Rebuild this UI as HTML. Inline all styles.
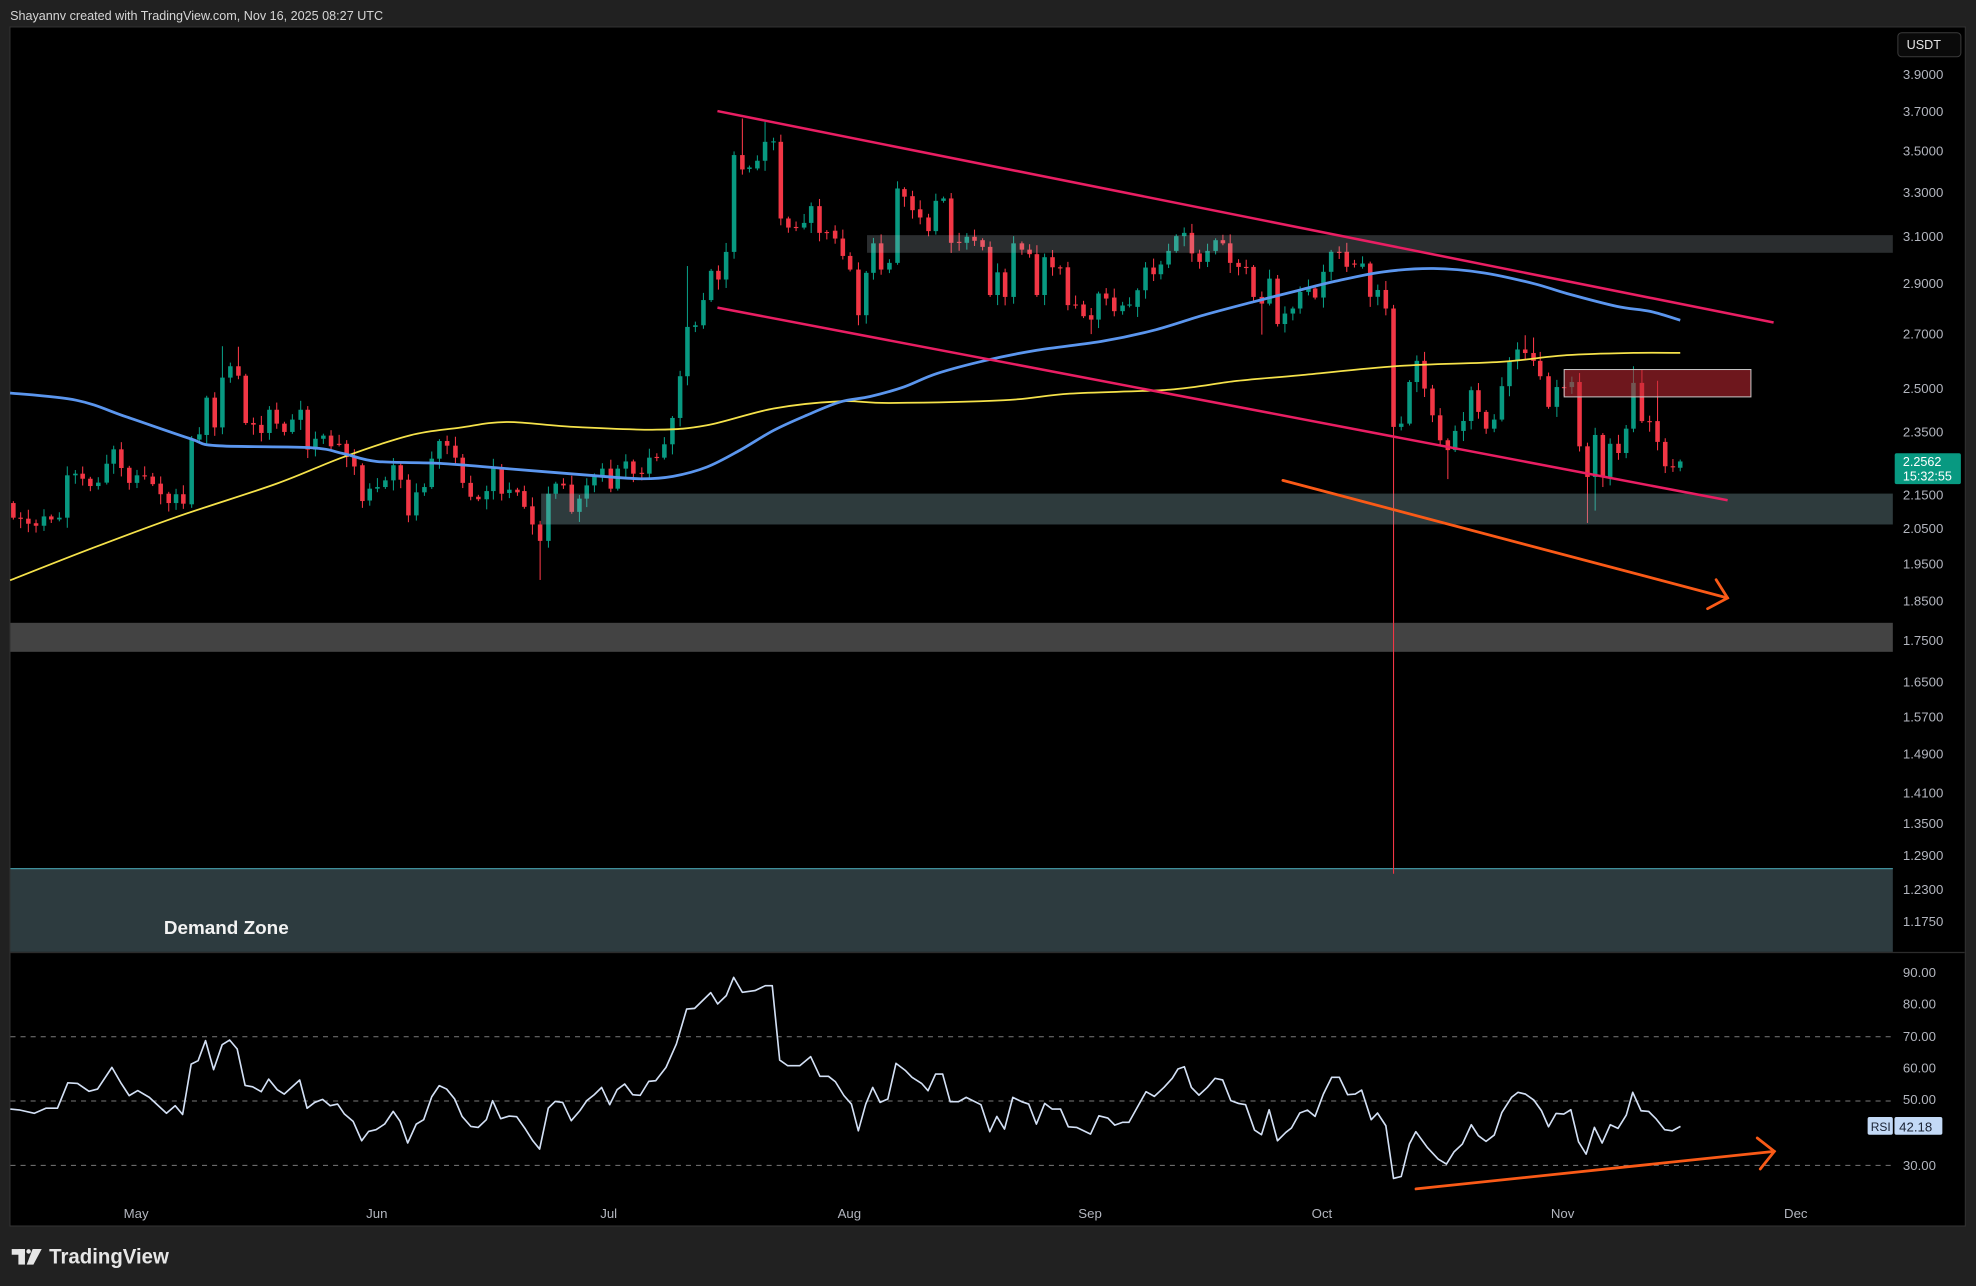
<!DOCTYPE html>
<html><head><meta charset="utf-8"><style>
html,body{margin:0;padding:0;background:#212121;}
svg{display:block;}
text{font-family:"Liberation Sans",sans-serif;}
</style></head><body>
<svg id="s" xmlns="http://www.w3.org/2000/svg" width="1976" height="1286" viewBox="0 0 1568 1020" preserveAspectRatio="none">
<rect x="0" y="0" width="1568" height="1020" fill="#212121"/>
<text x="8" y="16" font-size="10.5" fill="#d6d6d6" textLength="296" lengthAdjust="spacingAndGlyphs">Shayannv created with TradingView.com, Nov 16, 2025 08:27 UTC</text>
<rect x="7.9" y="21.4" width="1551.6" height="951" fill="#000" stroke="#333" stroke-width="0.8"/>
<!-- demand zone -->
<rect x="8.3" y="688.5" width="1493.7" height="66.5" fill="#2d3b3f"/>
<line x1="8.3" y1="689" x2="1502" y2="689" stroke="#3f8f9b" stroke-width="1"/>
<text x="130" y="741" font-size="15" font-weight="bold" fill="#f2f2f2">Demand Zone</text>
<!-- gray band -->
<rect x="8.3" y="494" width="1493.7" height="23" fill="#434343"/>
<line x1="8" y1="755.5" x2="1559" y2="755.5" stroke="#2c2c2c" stroke-width="1"/>
<g id="candles"></g>
<path id="ma200" fill="none" stroke="#f5e24a" stroke-width="1.4" d=""/>
<path id="ma100" fill="none" stroke="#5b96ee" stroke-width="2.2" d=""/>
<!-- overlay zones -->
<rect x="688" y="186.5" width="814" height="14" fill="rgba(190,205,212,0.22)"/>
<rect x="429.4" y="391.5" width="1072.6" height="24.5" fill="rgba(140,180,186,0.33)"/>
<rect x="1241.2" y="293.1" width="148.2" height="21.7" fill="rgba(190,40,50,0.58)" stroke="#c9c9c9" stroke-width="0.8"/>
<!-- pink channel -->
<line x1="569.3" y1="88.1" x2="1407.4" y2="255.8" stroke="#e91e63" stroke-width="2"/>
<line x1="569.3" y1="244" x2="1370.9" y2="396.8" stroke="#e91e63" stroke-width="2"/>
<!-- orange arrow price -->
<g stroke="#fa5a17" stroke-width="2.2" fill="none" stroke-linecap="round">
<line x1="1018" y1="381" x2="1370.9" y2="474.3"/>
<polyline points="1361.8,459.8 1370.9,474.3 1355,482.8"/>
</g>
<!-- price axis -->
<rect x="1506" y="26" width="50" height="19" rx="3" fill="#0a0a0a" stroke="#3a3a3a" stroke-width="0.8"/>
<text x="1513" y="39" font-size="10" fill="#e6e6e6">USDT</text>
<g id="pax" font-size="10.5" fill="#b2b5be"></g>
<rect x="1503.5" y="359.5" width="52.5" height="24.5" rx="1.5" fill="#089981"/>
<text x="1510" y="369.5" font-size="10" fill="#ffffff">2.2562</text>
<text x="1510" y="381" font-size="10" fill="#ffffff">15:32:55</text>
<!-- RSI -->
<g stroke="#7a7a7a" stroke-width="0.8" stroke-dasharray="4 4">
<line x1="8.3" y1="822.3" x2="1502" y2="822.3"/>
<line x1="8.3" y1="873.3" x2="1502" y2="873.3"/>
<line x1="8.3" y1="924.3" x2="1502" y2="924.3"/>
</g>
<polyline id="rsi" fill="none" stroke="#d3e0f5" stroke-width="1.3" stroke-linejoin="round" points=""/>
<g stroke="#fa5a17" stroke-width="2.2" fill="none" stroke-linecap="round">
<line x1="1123.6" y1="943" x2="1408" y2="913.2"/>
<polyline points="1394.4,902.6 1408,913.2 1396.8,927.2"/>
</g>
<g font-size="10.5" fill="#b2b5be">
<text x="1510" y="774.8">90.00</text>
<text x="1510" y="799.8">80.00</text>
<text x="1510" y="825.8">70.00</text>
<text x="1510" y="850.8">60.00</text>
<text x="1510" y="875.8">50.00</text>
<text x="1510" y="927.8">30.00</text>
</g>
<rect x="1482" y="886" width="20" height="14" rx="1.5" fill="#c3d9f6"/>
<rect x="1503.3" y="886" width="38" height="14" rx="1.5" fill="#c3d9f6"/>
<text x="1484.5" y="897" font-size="9.5" fill="#1a2233">RSI</text>
<text x="1507" y="897.3" font-size="10.5" fill="#1a2233">42.18</text>
<!-- time axis -->
<g font-size="10.5" fill="#b2b5be" text-anchor="middle">
<text x="108" y="966">May</text>
<text x="299" y="966">Jun</text>
<text x="483" y="966">Jul</text>
<text x="674" y="966">Aug</text>
<text x="865" y="966">Sep</text>
<text x="1049" y="966">Oct</text>
<text x="1240" y="966">Nov</text>
<text x="1425" y="966">Dec</text>
</g>
<!-- logo -->
<g fill="#e6e6e6">
<rect x="9.3" y="990.7" width="10.5" height="4.5"/>
<rect x="14.6" y="990.7" width="5.2" height="12.3"/>
<circle cx="22.7" cy="992.6" r="1.8"/>
<polygon points="25.9,990.7 33.1,990.7 26.5,1003 21.2,1003"/>
</g>
<text x="39" y="1002" font-size="16.5" font-weight="bold" fill="#e6e6e6" textLength="95" lengthAdjust="spacingAndGlyphs">TradingView</text>
</svg>
<script>
(function(){
var D=[
[10.6,399,410.6],[16.4,410.6,410.9],[22.5,411.4,415.4],[28.6,415,417],[34.9,417,409.6],[40.7,409.6,412],[47.1,412,410.6],[53.4,410.6,377],[59.8,377,375.7],[65.6,375.7,379.7],[71.7,379.7,385.5],[78,385.5,382.8],[84.7,382.8,367.8],[90.2,367.8,356.4],[96.3,356.4,371.2],[102.6,371,383],[108.7,383,377],[114.8,377,377.6],[121.2,378,384],[127.5,383.6,392],[133.9,391.6,399],[139.7,399,392],[145.5,392,399.5],[152.1,400,348.7],[158.2,348.7,344.5],[164,345,315.4],[170.4,315.4,339],[176.5,339,299.5,274.6],[182.8,299.5,290.5],[189.2,290.5,298,275],[195,298,335.5],[201.1,335.5,336.8],[207.4,337,343.4],[213.8,343.4,325],[219.6,325,336],[225.7,336,342.6],[232,342.6,332.8],[238.6,333,325],[244.2,325,356.6],[250.3,356.6,348],[256.6,348,345.5],[262.7,345.5,354],[269.1,352,352.6],[275.1,352,362.5],[281.2,362,370],[287.6,369,397.4],[293.4,397,387.6],[299.5,387.6,386.3],[305.8,386.3,381],[312.2,381,369],[318,369,380.5],[324.1,380.5,408.8],[330.4,408.8,390.5],[336.8,390.5,386.3],[342.6,386.3,363.8],[348.7,363.8,349.8],[354.8,349.8,353.5],[361.4,353.5,363],
[367.2,363,383],[373.5,383,394],[379.6,394,396],[386.2,396,389.5],[391.5,389.5,371],[398.1,371,391.6],[404.2,391,388.4],[410.6,388.4,390.5],[416.1,389.5,402],[422.5,401.6,416],[428.6,416,429,null,460],[435.2,429,391.6],[441,391.6,383.6],[447.1,383.6,385],[453.7,384.4,406],[459.8,406,395.5],[465.6,395.5,385],[471.7,385,377],[478,378,371.7],[484.7,371.7,387.6],[490.2,387.6,371.7],[496.6,371.7,366],[502.6,366,375.7],[509.3,375,375.6],[515.3,375.7,363],[521.2,362.4,363],[527.2,363,352.4],[533.6,352.4,331.5],[539.7,331.5,298.4],[545.5,298.4,259.3,211,305.6],[551.8,259.3,258],[558.2,258,238],[564.3,238,214.8],[570.1,214.8,221.7],[576.2,221.7,199.8],[582.5,199.8,123],[589.1,123,134.4,94],[594.7,134,132.8],[601,133.6,127.5],[607.1,127.5,112.5,96.6],[613.8,112.5,112.1],[619.6,112.5,173.3],[625.6,173.3,180.5],[631.7,180,180.5],[638.1,180.5,176.8],[643.7,176.8,163.5],[650.3,163.5,184.7],[656.1,184,184.5],[662.7,183,189.2],[668.8,189.2,203],[674.6,203,213.8],[681.2,213.8,250],[687.4,250,216.4],
[693.1,216.4,193],[699.2,193,213.8],[705.8,213.8,208.5],[712.2,208.5,149.5],[717.7,150,156],[724.1,155.6,166.7],[730.2,166,172.5],[736.8,172.5,183.3],[742.6,183.3,159.3],[748.7,159.3,157.4],[754.8,157.4,192.6],[761.1,191.8,192.2],[767.2,192.6,187.8],[773.3,187.8,191],[779.7,190.5,195.8],[785.7,195.8,234],[791.6,234,216],[797.6,216,235.5],[804.3,235.5,193],[810.9,193,198],[817,198,201.6],[822.8,201.6,234],[828.9,234,204],[835.2,204,212],[841.3,212,212.4],[847.4,212,242],[853.5,241.5,242],[859.8,241.5,250.8],[865.9,250,253.5,null,265],[871.7,253.5,232.8],[877.8,232.8,236.8],[884.2,236,246.8],[890.8,246.8,242.3],[896.3,242.3,241.5],[902.7,243.4,230.2],[909,230.2,212.2],[915.4,212.2,217.5],[921.2,217.5,209.8],[927.3,209.8,199],[933.4,199,187.3],[939.7,187.3,184.7],[945.8,184.7,201],[951.9,201,207.7],[958.2,207.7,199],[964.6,199,190.5],[970.4,190.5,193],[976.2,193,208.5],[982.8,208.5,211.7],[988.9,211.7,212.1],[994.7,211.7,235.5],[1001.3,235.5,240.8,null,265.4],[1007.4,240.8,221],[1013.8,221,257,null,259],[1019.6,257,248.7],[1025.9,248.7,244.7],
[1031.7,244.7,231.5],[1038.3,231.5,228.8],[1043.6,228.8,236],[1050.2,236,215.6],[1056.3,215.6,199.7],[1062.7,199.7,200],[1068.7,199.7,211.6],[1074.8,209,209.4],[1081.2,211.6,209],[1087.3,209,235.4],[1093.3,235.4,230],[1099.7,230,244.7],[1105.8,244.7,338.6,null,693],[1111.9,338.6,336],[1118.5,336,303],[1124.3,303,286.2],[1130.4,286.2,308.2],[1136.7,308.2,329.4],[1142.8,329.4,349.2],[1148.9,349.2,357,null,380],[1154.7,357,341.8],[1161.3,341.8,333.9],[1167.4,333.9,309.5],[1173.2,309.5,326.7],[1179.3,326.7,340],[1185.7,340,332.8],[1191.8,332.8,306.3],[1197.8,306.3,286.2],[1204.2,286.2,277.2],[1210.3,277.2,280,265.9],[1216.9,280,286.2,267.7],[1222.2,286.2,298.4],[1228.8,298.4,322.7],[1235.4,322.7,307],[1241.2,307,307.4],[1247.3,307,303],[1253.4,303,354],[1259.7,354,378.3,null,414.8],[1265.8,378.3,345,null,405],[1271.9,345,378.3],[1277.7,378.3,352],[1284.3,352,359.3],[1290.4,359.3,340],[1296.2,340,303.7,290.5],[1302.9,303.7,334,293],[1309,334,334.4],[1315.3,334,350.5,302],[1321.4,350.5,369.8],[1327.5,369.8,370.2],[1333.3,371,366]
];
var G="#089981",R="#f23645",s="";
for(var i=0;i<D.length;i++){
 var d=D[i],x=d[0],o=d[1],c=d[2];
 var top=Math.min(o,c),bot=Math.max(o,c);
 var h=(d[3]!=null)?d[3]:top-(1.5+((i*7)%5)*1.4);
 var l=(d[4]!=null)?d[4]:bot+(1.5+((i*11)%6)*1.3);
 var col=(c<o)?G:R;
 var bh=Math.max(0.9,bot-top);
 s+='<line x1="'+x+'" y1="'+h+'" x2="'+x+'" y2="'+l+'" stroke="'+col+'" stroke-width="0.85"/>';
 s+='<rect x="'+(x-1.8)+'" y="'+top+'" width="3.6" height="'+bh+'" fill="'+col+'"/>';
}
document.getElementById("candles").innerHTML=s;
function smooth(p){
 var d="M"+p[0][0]+","+p[0][1];
 for(var i=0;i<p.length-1;i++){
  var p0=p[i>0?i-1:i],p1=p[i],p2=p[i+1],p3=p[i+2<p.length?i+2:i+1];
  var c1x=p1[0]+(p2[0]-p0[0])/6,c1y=p1[1]+(p2[1]-p0[1])/6;
  var c2x=p2[0]-(p3[0]-p1[0])/6,c2y=p2[1]-(p3[1]-p1[1])/6;
  d+=" C"+c1x.toFixed(2)+","+c1y.toFixed(2)+" "+c2x.toFixed(2)+","+c2y.toFixed(2)+" "+p2[0]+","+p2[1];
 }
 return d;
}
var Y=[[8,460.3],[70,436],[140.2,410],[219.6,383.6],[272.5,362.5],[325.4,345.3],[365,339.2],[402,334.7],[455,338.6],[521.2,340.8],[561,337.3],[614,324],[666.7,318.3],[706.3,319.6],[796.3,317.5],[849,312.2],[928.6,309],[981.5,302.1],[1031.7,297.6],[1111,290.2],[1190.4,287],[1243.3,281.7],[1296.2,279.9],[1333.3,279.9]];
var B=[[8,311.7],[60.8,317.5],[100.5,330.7],[150.8,347.9],[172,353.5],[246,355],[272.5,359.8],[299,366],[349,367.5],[402,371.7],[468,377],[508,379.7],[534,377.8],[561,370.4],[587,357.2],[614,341.3],[640,329.4],[666.7,318.8],[690.5,314.5],[717,307],[743.4,296.3],[783,285.7],[822.8,277.8],[875.7,270.5],[915.4,262],[955,250],[994.7,239.4],[1031.7,230],[1060,223],[1097.8,215.6],[1137.5,213],[1177.2,216.4],[1216.9,224.9],[1243.3,232.8],[1283,243],[1309.5,247],[1333.3,254]];
document.getElementById("ma200").setAttribute("d",smooth(Y));
document.getElementById("ma100").setAttribute("d",smooth(B));
var P=[[3.9,"3.9000"],[3.7,"3.7000"],[3.5,"3.5000"],[3.3,"3.3000"],[3.1,"3.1000"],[2.9,"2.9000"],[2.7,"2.7000"],[2.5,"2.5000"],[2.35,"2.3500"],[2.15,"2.1500"],[2.05,"2.0500"],[1.95,"1.9500"],[1.85,"1.8500"],[1.75,"1.7500"],[1.65,"1.6500"],[1.57,"1.5700"],[1.49,"1.4900"],[1.41,"1.4100"],[1.35,"1.3500"],[1.29,"1.2900"],[1.23,"1.2300"],[1.175,"1.1750"]];
var t="";
for(var j=0;j<P.length;j++){
 var y=59+560*(1.3610-Math.log(P[j][0]));
 t+='<text x="1510" y="'+(y+3.7).toFixed(1)+'">'+P[j][1]+'</text>';
}
document.getElementById("pax").innerHTML=t;
var r="8.2,879.7 16,880.5 27.3,883 36.4,879 45.6,879 53.8,858.8 61.5,859.3 70.6,865.6 77.4,863.8 88.8,846.6 95.7,858.5 102.5,869 109.3,865 118.5,870.4 132.1,883 139,877 144.9,884 151.7,844 157.2,841.3 163.1,825.4 169.5,848.4 176.3,828.6 182.2,824.9 188.2,832 194.5,860.9 200.5,862 207.3,865.9 213.2,855.9 220,864.3 225.5,867.8 237.8,856.6 243.7,879 249.7,874.4 256,872 262,877 267.9,875.7 273.3,883.6 280.2,889.4 287,904.8 292.5,897.4 298.4,896 305.2,891.6 312,881.5 317.5,889.4 323.5,906.6 330.3,891.6 336.2,888.1 342.6,869.9 348.5,861.1 354.4,863.8 360.8,871.7 366.7,885.5 373.6,893.4 379.5,894.2 385.9,888.1 390.9,873 397.3,887.3 404.1,885.2 410,885.7 416.9,895.5 422.8,904.8 428.2,911.4 435.1,878.9 440.5,873.6 446.5,874.4 453.3,888.9 460.1,881 465.6,873 471.5,868.3 477.4,862.5 483.8,876.2 489.7,864.3 495.7,859.8 502.1,868.3 508,868.8 514.8,857.7 520.3,857.2 528.5,846.6 536.7,828.1 544.9,800.3 551.2,799.8 564,787.3 569.5,796.3 576.3,789.7 582.2,775.2 589.1,787.1 599.1,785.7 607.3,781.8 612.8,781.8 618.7,840.8 625.1,845.3 634.6,845.3 643.3,838.1 650.6,853.7 657.4,853.7 662.9,858 669.7,869 675.6,875.7 681.1,896.9 687,875.7 692.5,862.5 698.4,874.4 704.5,871.7 711,843.4 718.6,849.2 723.7,854.5 731.3,859.3 736.4,865.1 742.4,851.9 748,851.9 754,873.8 760.6,873.8 766.7,870.4 778.4,876.2 785.4,897.6 791,885.5 797.1,895.5 803.7,870.4 810.7,873.8 816.3,875.7 822.4,891.6 829,875.2 835,879.7 841.6,879.7 847.7,893.7 854.3,894.2 865.4,899.5 872,885 879.1,886.8 884.6,892.4 890.7,890.2 895.8,890.2 909.4,865.9 916,869.6 923.6,862.5 930.2,855.3 934.7,847.9 939.8,846.1 945.4,862.5 951.4,868.6 958,862.5 964.1,855.3 970.2,856.6 976.7,873 982.8,875.2 988.4,876.2 995.5,896.3 1001,900 1007.1,880.2 1013.7,904.8 1020.3,898.2 1024.8,894.7 1031.4,882.8 1037.5,880.5 1043.5,885.5 1050.1,867.8 1056.7,854.5 1062.8,854.5 1069.4,868.3 1075.4,867.8 1080.5,864.6 1088.1,888.1 1093.1,882.8 1099.7,892.9 1105.8,934.7 1111.9,933.1 1118.4,907.4 1123.5,897.6 1132.6,910.1 1141.2,919.3 1147.8,923.3 1153.9,913.5 1160.4,907.4 1167.5,892.1 1173.1,900.8 1179.2,905.3 1185.7,900.3 1191.8,882.3 1199.4,870.4 1204.5,866.4 1210.5,867.8 1217.1,872.5 1223.2,881 1228.8,893.7 1234.8,883.1 1240.9,883.6 1246.5,880.2 1252.6,905.6 1258.6,915.4 1265.2,894.2 1271.3,906.6 1277.8,892.1 1283.9,895 1290.5,884.4 1295.6,866.4 1302.2,881 1308.2,881.5 1314.3,887.6 1320.9,896 1327,896.9 1333.5,893.4";
document.getElementById("rsi").setAttribute("points",r);
})();
</script>
</body></html>
